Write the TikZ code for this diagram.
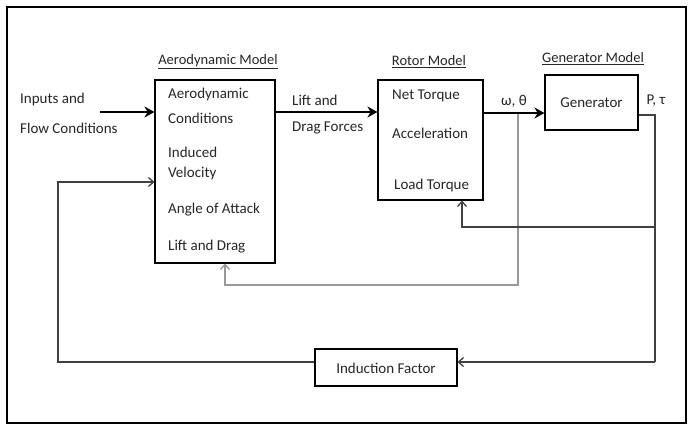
\documentclass[tikz,border=0pt]{standalone}
\usepackage{fontspec}
\setmainfont{Carlito}
\usetikzlibrary{arrows.meta}
\tikzset{
  box/.style={draw=black, line width=1.1pt, rectangle, inner sep=0pt},
  txt/.style={font=\fontsize{15}{17}\selectfont, inner sep=0pt, anchor=west, text=black!85},
  ttl/.style={font=\fontsize{14.5}{16}\selectfont, inner sep=0pt, text=black!85},
  mainarrow/.style={line width=2.8pt, -{Stealth[length=10pt,width=11pt]}},
  fb/.style={draw=black!75, line width=1.3pt},
  fbarrow/.style={fb, -{Straight Barb[length=5pt,width=9pt,line width=1.3pt]}},
  lightfb/.style={draw=black!40, line width=1.3pt, -{Straight Barb[length=5pt,width=9pt,line width=1.3pt]}}
}
\begin{document}
\begin{tikzpicture}[x=1pt,y=-1pt]
\useasboundingbox (0,0) rectangle (690,428);
\draw[line width=1.2pt] (7,7) rectangle (686,423);

% boxes
\node[box, minimum width=120pt, minimum height=183pt] (aero) at (215,171.5) {};
\node[box, minimum width=105pt, minimum height=120pt] (rotor) at (430.5,140) {};
\node[box, minimum width=93pt, minimum height=55pt] (gen) at (591.5,102.5) {};
\node[box, minimum width=142pt, minimum height=37pt] (ind) at (386,367.5) {};

% titles
\node[ttl] (taero) at (218,62) {\underline{Aerodynamic Model}};
\node[ttl] (trotor) at (429,62) {\underline{Rotor Model}};
\node[ttl] (tgen) at (593,59) {\underline{Generator Model}};

% box contents
\node[txt] (a1) at (168,95) {Aerodynamic};
\node[txt] (a2) at (168,118) {Conditions};
\node[txt] (a3) at (168,152) {Induced};
\node[txt] (a4) at (168,173) {Velocity};
\node[txt] (a5) at (168,210) {Angle of Attack};
\node[txt] (a6) at (168,247) {Lift and Drag};
\node[txt] (r1) at (392,96) {Net Torque};
\node[txt] (r2) at (392,133) {Acceleration};
\node[txt] (r3) at (394,185) {Load Torque};
\node[txt, anchor=center] (g1) at (591.5,103) {Generator};
\node[txt, anchor=center] (i1) at (386,368) {Induction Factor};

% free labels
\node[txt] (in1) at (20,100) {Inputs and};
\node[txt] (in2) at (20,128) {Flow Conditions};
\node[txt] (l1) at (292,100) {Lift and};
\node[txt] (l2) at (292,128) {Drag Forces};
\node[txt, anchor=center] (wt) at (514,101) {ω, θ};
\node[txt, anchor=center] (pt) at (656,101) {P, τ};

% coordinates
\coordinate (cin) at (100,112);
\coordinate (cout) at (655,115);
\coordinate (cdown) at (655,362);
\coordinate (cbr) at (655,227);
\coordinate (cload) at (462,227);
\coordinate (ctap) at (518,113);
\coordinate (cgr) at (518,285);
\coordinate (cgl) at (225,285);
\coordinate (cfl) at (58,362);
\coordinate (cfu) at (58,182);

% gray feedback to aero model
\draw[lightfb] (ctap) -- (cgr) -- (cgl) -- (cgl |- aero.south);

% main forward arrows
\draw[mainarrow] (cin) -- (cin -| aero.west);
\draw[mainarrow] (aero.east |- cin) -- (rotor.west |- cin);
\draw[mainarrow] (rotor.east |- ctap) -- (gen.west |- ctap);

% output feedback
\draw[fb] (gen.east |- cout) -- (cout) -- (cdown);
\draw[fbarrow] (cdown) -- (cdown -| ind.east);
\draw[fbarrow] (cbr) -- (cload) -- (cload |- rotor.south);
\draw[fbarrow] (ind.west |- cfl) -- (cfl) -- (cfu) -- (cfu -| aero.west);
\end{tikzpicture}
\end{document}
